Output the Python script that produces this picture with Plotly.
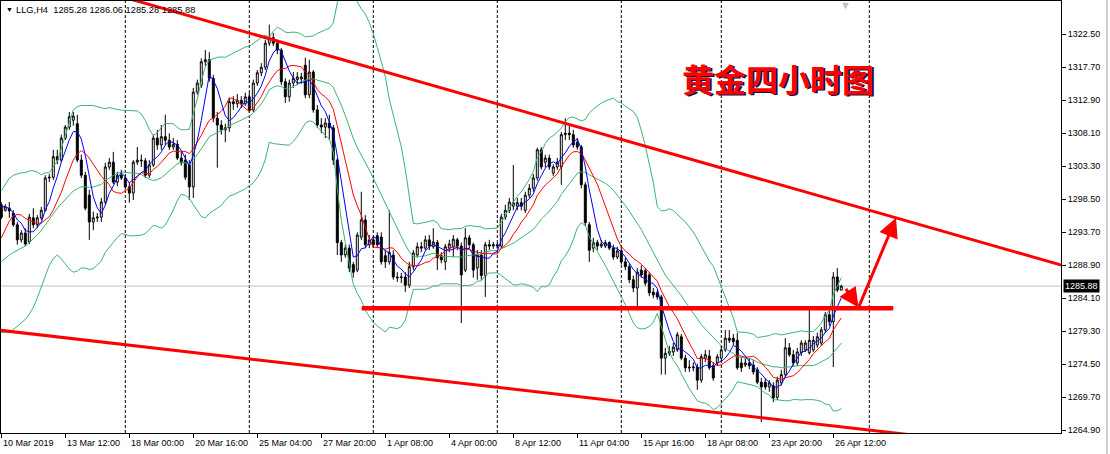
import plotly.graph_objects as go
import pandas as pd

# ---------------- data (H4 bars, index 0 = 10 Mar 2019) ----------------
open_ = [1297.7,1296.9,1297.2,1296.5,1294.8,1292.6,1293.6,1292.3,1295.8,1294.8,
1295.8,1296.9,1301.6,1301.7,1304.7,1304.2,1307.4,1309.0,1310.0,1309.5,
1304.2,1302.0,1299.1,1295.2,1295.8,1295.9,1298.1,1303.2,1303.9,1301.0,
1302.0,1301.6,1300.3,1299.4,1303.9,1304.2,1304.1,1302.0,1303.5,1307.4,
1306.4,1307.6,1307.1,1306.1,1306.5,1304.5,1304.2,1303.5,1300.3,1314.1,
1315.1,1318.5,1318.8,1316.1,1310.3,1309.3,1308.6,1308.9,1312.7,1312.4,
1312.9,1312.4,1313.4,1311.5,1315.4,1316.9,1317.7,1321.2,1322.0,1321.2,
1320.2,1315.6,1313.4,1315.4,1315.9,1316.0,1318.0,1313.7,1317.0,1311.5,
1309.3,1309.0,1309.6,1308.9,1304.2,1292.2,1290.4,1291.4,1289.0,1288.2,
1293.0,1295.5,1291.9,1292.6,1293.2,1293.0,1290.3,1289.4,1290.4,1287.2,
1287.1,1287.2,1286.0,1288.7,1290.4,1291.6,1291.4,1292.6,1291.6,1292.2,
1290.3,1289.4,1291.4,1291.6,1292.6,1291.7,1288.2,1292.9,1291.9,1288.5,
1290.4,1287.4,1291.9,1291.7,1291.9,1291.7,1295.9,1296.9,1297.5,1297.5,
1298.0,1296.9,1299.1,1300.1,1301.6,1305.7,1303.9,1304.5,1302.3,1303.2,
1303.2,1307.9,1308.1,1307.9,1306.8,1306.1,1300.6,1294.8,1291.4,1292.2,
1291.7,1291.7,1292.2,1291.4,1290.1,1291.0,1289.4,1288.7,1286.8,1285.6,
1288.2,1288.1,1287.5,1285.0,1284.9,1284.3,1275.4,1276.1,1276.3,1276.6,
1278.5,1275.4,1274.1,1274.0,1274.1,1272.2,1275.4,1275.7,1274.3,1274.7,
1275.4,1276.6,1278.3,1278.3,1278.0,1274.7,1274.4,1274.7,1274.4,1273.7,
1271.9,1271.9,1271.2,1271.4,1269.7,1271.8,1273.0,1276.9,1275.9,1274.7,
1276.2,1276.6,1276.2,1276.6,1277.3,1277.6,1279.5,1281.7,1280.7,1287.2,
1285.28]

high_ = [1298.1,1297.8,1298.1,1296.9,1295.2,1294.0,1294.3,1296.4,1297.2,1296.2,
1297.4,1302.0,1302.2,1305.7,1305.7,1307.9,1309.3,1311.2,1311.2,1310.8,
1305.0,1302.5,1299.9,1296.7,1296.5,1298.7,1303.8,1304.5,1305.4,1302.5,
1302.8,1302.2,1300.9,1304.2,1306.1,1305.0,1304.5,1304.2,1307.9,1308.6,
1309.3,1310.8,1308.1,1307.4,1307.1,1305.4,1305.0,1304.2,1314.7,1315.9,
1319.0,1320.2,1319.9,1316.6,1311.2,1310.0,1309.5,1313.2,1313.5,1313.8,
1313.5,1314.0,1314.0,1315.9,1317.3,1318.3,1321.7,1323.9,1322.7,1321.7,
1320.5,1316.1,1315.9,1317.0,1317.0,1316.9,1319.1,1318.8,1317.3,1312.2,
1310.3,1310.3,1310.8,1309.3,1304.5,1292.6,1291.9,1291.9,1289.4,1293.7,
1299.6,1296.2,1293.3,1293.2,1293.7,1293.7,1291.1,1296.9,1291.1,1287.9,
1287.8,1287.9,1289.4,1291.1,1292.2,1292.3,1293.2,1293.3,1294.3,1292.6,
1290.8,1292.0,1292.6,1293.3,1292.9,1292.2,1294.3,1293.3,1292.2,1291.1,
1291.1,1292.3,1292.6,1292.3,1292.2,1296.4,1297.7,1298.7,1303.5,1298.7,
1298.7,1299.6,1300.7,1302.2,1306.0,1306.1,1305.0,1305.0,1303.6,1304.5,
1308.3,1310.3,1309.3,1308.6,1307.4,1306.4,1301.0,1295.2,1292.9,1292.6,
1292.6,1292.6,1292.4,1291.9,1291.6,1291.7,1290.0,1289.1,1287.4,1288.5,
1288.9,1288.5,1287.9,1285.6,1285.3,1284.6,1276.9,1277.2,1277.6,1279.2,
1278.9,1275.9,1275.1,1274.8,1274.6,1276.0,1276.6,1276.6,1274.8,1276.0,
1277.2,1279.5,1279.5,1278.9,1279.1,1275.4,1275.4,1275.4,1275.1,1274.1,
1272.5,1272.5,1272.2,1271.9,1272.7,1273.7,1278.3,1277.6,1276.6,1276.9,
1278.0,1278.0,1282.7,1278.6,1279.1,1279.9,1282.1,1282.3,1287.9,1288.5,
1286.06]

low_ = [1295.6,1296.7,1295.8,1294.5,1291.9,1292.2,1291.7,1292.0,1294.3,1294.3,
1295.5,1296.7,1301.0,1301.3,1303.6,1303.9,1307.1,1308.6,1309.2,1303.9,
1301.6,1296.9,1292.6,1294.0,1295.2,1295.2,1297.7,1302.8,1300.7,1300.4,
1301.3,1299.9,1298.0,1298.4,1303.5,1303.2,1301.6,1301.6,1303.2,1305.7,
1305.7,1306.4,1305.7,1305.7,1304.2,1303.4,1301.3,1298.4,1298.7,1313.7,
1314.7,1317.9,1315.6,1309.7,1303.1,1307.9,1306.8,1308.3,1311.5,1311.8,
1311.8,1312.1,1311.1,1311.2,1315.0,1316.4,1317.3,1320.8,1320.8,1319.6,
1315.1,1312.5,1312.7,1314.7,1315.1,1315.3,1313.2,1313.2,1311.1,1308.9,
1308.1,1307.4,1307.1,1303.5,1290.4,1289.4,1290.0,1287.9,1287.1,1287.9,
1292.6,1291.4,1291.4,1291.4,1291.4,1289.0,1288.5,1289.0,1286.8,1286.5,
1286.3,1285.0,1285.6,1288.2,1290.0,1290.8,1291.1,1291.1,1291.3,1288.2,
1289.2,1288.2,1290.8,1290.1,1291.1,1280.5,1287.9,1291.4,1287.1,1286.8,
1286.8,1284.3,1291.1,1291.3,1291.3,1291.3,1295.5,1296.5,1296.9,1296.9,
1296.9,1296.5,1298.7,1299.6,1301.2,1302.8,1303.1,1302.8,1301.9,1302.8,
1300.6,1307.1,1307.1,1306.0,1305.7,1300.1,1294.6,1289.4,1290.8,1291.1,
1291.4,1291.4,1291.1,1289.7,1289.8,1289.0,1288.2,1286.3,1285.0,1282.4,
1287.1,1285.9,1284.4,1284.1,1283.9,1273.0,1273.0,1275.7,1275.7,1276.3,
1275.1,1273.4,1273.4,1273.5,1270.8,1271.8,1274.8,1273.7,1272.1,1274.3,
1275.0,1276.3,1277.6,1277.3,1273.7,1273.4,1274.1,1273.8,1273.0,1271.6,
1266.1,1270.8,1270.5,1269.0,1269.3,1271.4,1272.5,1275.6,1274.3,1274.3,
1275.7,1276.3,1275.9,1276.3,1276.9,1277.2,1279.1,1280.1,1274.1,1285.0,
1285.28]

close_ = [1295.9,1297.4,1296.8,1294.8,1292.6,1293.6,1292.0,1295.9,1294.8,1295.8,
1296.9,1301.6,1301.7,1304.7,1304.2,1307.4,1309.0,1310.5,1310.6,1304.2,
1302.0,1297.2,1295.2,1295.8,1295.9,1298.1,1303.2,1303.9,1301.0,1302.0,
1301.6,1300.3,1299.4,1303.9,1304.2,1304.1,1302.0,1303.5,1307.4,1306.4,
1307.6,1307.1,1306.1,1306.5,1304.5,1303.8,1301.7,1300.3,1314.1,1315.4,
1318.5,1318.8,1316.1,1310.3,1309.3,1308.6,1308.9,1312.7,1312.4,1312.9,
1312.4,1313.4,1311.5,1315.4,1316.9,1317.7,1321.2,1322.0,1321.2,1320.2,
1315.6,1313.4,1315.4,1316.1,1316.3,1316.3,1313.7,1317.0,1311.5,1309.3,
1309.0,1309.6,1308.9,1304.2,1292.2,1290.4,1291.4,1288.5,1287.9,1293.3,
1295.5,1291.9,1292.6,1291.9,1291.9,1289.4,1289.4,1290.8,1287.2,1287.1,
1287.2,1286.0,1288.7,1290.7,1291.6,1291.4,1292.6,1291.7,1292.3,1290.0,
1289.7,1291.6,1292.0,1292.7,1291.7,1287.5,1292.9,1291.9,1288.2,1290.4,
1287.4,1291.9,1291.7,1291.9,1291.7,1295.9,1296.9,1298.1,1298.0,1298.0,
1297.5,1299.1,1300.1,1301.6,1305.7,1303.2,1304.5,1303.2,1303.2,1303.9,
1307.9,1308.1,1307.9,1306.4,1306.1,1300.6,1295.1,1291.1,1292.2,1291.7,
1292.0,1292.2,1291.4,1290.1,1291.0,1289.4,1288.7,1286.8,1285.6,1287.9,
1287.5,1286.3,1284.9,1284.6,1284.3,1275.4,1276.1,1276.4,1277.0,1278.8,
1275.4,1274.0,1274.0,1274.1,1272.2,1275.6,1275.9,1274.0,1272.5,1275.6,
1276.6,1278.3,1278.0,1277.8,1274.0,1274.0,1274.7,1274.3,1273.4,1271.9,
1271.2,1271.2,1271.8,1269.6,1272.2,1273.0,1276.9,1275.9,1274.7,1276.3,
1277.6,1277.6,1278.0,1278.0,1278.5,1279.5,1281.7,1280.7,1287.2,1285.3,
1285.88]

# closes of the 19 bars just left of the visible window (seed the indicators)
prior_close = [1287.5,1288.0,1287.0,1286.5,1287.0,1286.0,1285.5,1285.0,1284.0,1283.5,
1284.5,1285.5,1287.0,1290.5,1294.5,1297.0,1298.5,1297.5,1298.0]

# time-axis labels (bar index, text)
label_bars = [0,16,32,48,64,80,96,112,128,144,160,176,192,208]
label_text = ["10 Mar 2019","13 Mar 12:00","18 Mar 00:00","20 Mar 16:00","25 Mar 04:00",
              "27 Mar 20:00","1 Apr 08:00","4 Apr 00:00","8 Apr 12:00","11 Apr 04:00",
              "15 Apr 16:00","18 Apr 08:00","23 Apr 20:00","26 Apr 12:00"]
# weekly period separators (bar index)
separator_bars = [31,62,93,124,155,180,217]
# price-axis ticks
price_ticks = [1322.50,1317.70,1312.90,1308.10,1303.30,1298.50,1293.70,1288.90,
               1284.10,1279.30,1274.50,1269.70,1264.90]
last_price = 1285.88
header = "LLG,H4  1285.28 1286.06 1285.28 1285.88"
title_cn = "黄金四小时图"

# drawn objects (bar index, price)
upper_trend_bar = [30, 270]
upper_trend_price = [1328.0, 1288.1]
lower_trend_bar = [-10, 240]
lower_trend_price = [1280.1, 1263.4]
support_bar = [90.1, 223.0]
support_price = [1282.65, 1282.65]
arrow1_from = (210.9, 1285.7); arrow1_to = (214.3, 1282.75)
arrow2_from = (214.3, 1282.75); arrow2_to = (223.7, 1295.8)

# ---------------- indicators ----------------
n = len(close_)
bars = list(range(n))
full = pd.Series(prior_close + close_)
k = len(prior_close)
ma5 = full.rolling(5).mean().iloc[k:].tolist()
ma10 = full.rolling(10).mean().iloc[k:].tolist()
mid = full.rolling(20).mean()
sd = full.rolling(20).std(ddof=0)
bb_mid = mid.iloc[k:].tolist()
bb_up = (mid + 2 * sd).iloc[k:].tolist()
bb_lo = (mid - 2 * sd).iloc[k:].tolist()

FONT = "Arial, Liberation Sans, sans-serif"
GREEN = "#3cb371"

fig = go.Figure()
fig.add_trace(go.Candlestick(
    x=bars, open=open_, high=high_, low=low_, close=close_,
    increasing=dict(line=dict(color="black", width=1), fillcolor="white"),
    decreasing=dict(line=dict(color="black", width=1), fillcolor="black"),
    whiskerwidth=0, showlegend=False, hoverinfo="skip"))

for series in (bb_up, bb_mid, bb_lo):
    fig.add_trace(go.Scatter(x=bars, y=series, mode="lines",
                             line=dict(color=GREEN, width=1), showlegend=False, hoverinfo="skip"))
fig.add_trace(go.Scatter(x=bars, y=ma10, mode="lines", line=dict(color="#ff0000", width=1),
                         showlegend=False, hoverinfo="skip"))
fig.add_trace(go.Scatter(x=bars, y=ma5, mode="lines", line=dict(color="#0000ff", width=1),
                         showlegend=False, hoverinfo="skip"))

fig.add_trace(go.Scatter(x=upper_trend_bar, y=upper_trend_price, mode="lines",
                         line=dict(color="#ff0000", width=3), showlegend=False, hoverinfo="skip"))
fig.add_trace(go.Scatter(x=lower_trend_bar, y=lower_trend_price, mode="lines",
                         line=dict(color="#ff0000", width=3), showlegend=False, hoverinfo="skip"))
fig.add_trace(go.Scatter(x=support_bar, y=support_price, mode="lines",
                         line=dict(color="#ff0000", width=4.5), showlegend=False, hoverinfo="skip"))

shapes = []
for b in separator_bars:
    shapes.append(dict(type="line", xref="x", yref="paper", x0=b, x1=b, y0=0, y1=1,
                       line=dict(color="black", width=1, dash="3px,2px"), layer="below"))
shapes.append(dict(type="line", xref="paper", yref="y", x0=0, x1=1, y0=last_price, y1=last_price,
                   line=dict(color="#c0c0c0", width=1), layer="below"))
# window edge on the far right
shapes.append(dict(type="line", xref="paper", yref="paper", x0=1.0434, x1=1.0434,
                   y0=-0.05, y1=1.01, line=dict(color="#a0a0a0", width=1)))

ann = []
for b, t in zip(label_bars, label_text):
    ann.append(dict(x=b, xref="x", y=0, yref="paper", yshift=-10, text=t, showarrow=False,
                    xanchor="left", yanchor="middle", font=dict(family=FONT, size=9, color="black")))
for (fx, fy), (tx, ty) in ((arrow1_from, arrow1_to), (arrow2_from, arrow2_to)):
    ann.append(dict(x=tx, y=ty, ax=fx, ay=fy, xref="x", yref="y", axref="x", ayref="y",
                    text="", showarrow=True, arrowhead=2, arrowsize=1.3, arrowwidth=3,
                    arrowcolor="#ff0000", standoff=0, startstandoff=0))
ann.append(dict(x=0, xref="paper", y=1, yref="paper", xshift=3, yshift=-3, text="▼",
                showarrow=False, xanchor="left", yanchor="top", font=dict(family=FONT, size=7, color="black")))
ann.append(dict(x=0, xref="paper", y=1, yref="paper", xshift=13, yshift=-2, text=header,
                showarrow=False, xanchor="left", yanchor="top", font=dict(family=FONT, size=9.3, color="black")))
ann.append(dict(x=0.6406, xref="paper", y=0.8218, yref="paper", xshift=1.5, yshift=-1.5,
                text="<b>" + title_cn + "</b>", showarrow=False, xanchor="left", yanchor="middle",
                font=dict(family="Noto Sans CJK SC", size=32, color="#101040")))
ann.append(dict(x=0.6406, xref="paper", y=0.8218, yref="paper",
                text="<b>" + title_cn + "</b>", showarrow=False, xanchor="left", yanchor="middle",
                font=dict(family="Noto Sans CJK SC", size=32, color="#ff0000")))
ann.append(dict(x=1, xref="paper", y=last_price, yref="y", xshift=2, text=f"{last_price:.2f}",
                showarrow=False, xanchor="left", yanchor="middle", bgcolor="black", borderpad=1,
                font=dict(family=FONT, size=9, color="white")))
ann.append(dict(x=0.797, xref="paper", y=1, yref="paper", yshift=4, text="▼", showarrow=False,
                xanchor="center", yanchor="top", font=dict(family=FONT, size=11, color="#c0c0c0")))

fig.update_layout(
    width=1110, height=454,
    margin=dict(l=1, r=49, t=1, b=21),
    paper_bgcolor="white", plot_bgcolor="white",
    showlegend=False,
    shapes=shapes, annotations=ann,
    xaxis=dict(range=[-0.075, 264.925], rangeslider=dict(visible=False), showgrid=False,
               zeroline=False, showline=True, linecolor="black", linewidth=1, mirror=True,
               tickvals=label_bars, ticks="outside", ticklen=4, tickcolor="black",
               showticklabels=False, fixedrange=True),
    yaxis=dict(range=[1264.51, 1327.34], side="right", showgrid=False, zeroline=False,
               showline=True, linecolor="black", linewidth=1, mirror=True,
               tickvals=price_ticks, ticktext=[f"{v:.2f}" for v in price_ticks],
               ticks="outside", ticklen=4, tickcolor="black",
               tickfont=dict(family=FONT, size=9, color="black"), fixedrange=True),
)

fig.write_html("out.html", config={"displayModeBar": False},
               post_script="document.body.style.margin='0';document.body.style.overflow='hidden';")
